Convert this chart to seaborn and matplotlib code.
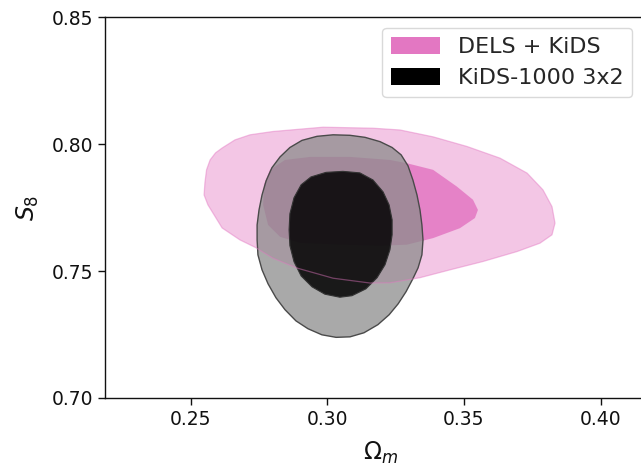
import matplotlib
matplotlib.use("Agg")
import matplotlib.pyplot as plt
import seaborn as sns
from matplotlib.patches import Patch

# ---- data: contour boundaries (Omega_m, S8) ----
dels_95_om = [0.2549, 0.2552, 0.2558, 0.2571, 0.2591, 0.2615, 0.2662, 0.2717, 0.2801, 0.2984,
              0.3167, 0.3266, 0.3387, 0.3511, 0.3632, 0.3731, 0.3789, 0.3822, 0.3833, 0.3822,
              0.3778, 0.3694, 0.3570, 0.3449, 0.3339, 0.3229, 0.3156, 0.3021, 0.2889, 0.2801,
              0.2739, 0.2680, 0.2615, 0.2563]
dels_95_s8 = [0.7800, 0.7848, 0.7899, 0.7938, 0.7966, 0.7985, 0.8017, 0.8037, 0.8050, 0.8067,
              0.8063, 0.8056, 0.8029, 0.7991, 0.7945, 0.7886, 0.7820, 0.7754, 0.7689, 0.7643,
              0.7610, 0.7577, 0.7538, 0.7505, 0.7474, 0.7454, 0.7453, 0.7472, 0.7512, 0.7551,
              0.7592, 0.7623, 0.7670, 0.7761]

dels_68_om = [0.2768, 0.2790, 0.2845, 0.2937, 0.3083, 0.3229, 0.3291, 0.3387, 0.3474, 0.3533,
              0.3551, 0.3540, 0.3485, 0.3387, 0.3291, 0.3193, 0.3046, 0.2900, 0.2827, 0.2783,
              0.2765]
dels_68_s8 = [0.7840, 0.7899, 0.7938, 0.7950, 0.7950, 0.7938, 0.7925, 0.7899, 0.7833, 0.7781,
              0.7741, 0.7709, 0.7669, 0.7630, 0.7604, 0.7600, 0.7604, 0.7611, 0.7635, 0.7682,
              0.7761]

kids_95_om = [0.3021, 0.3083, 0.3138, 0.3193, 0.3237, 0.3270, 0.3295, 0.3313, 0.3328, 0.3339,
              0.3346, 0.3350, 0.3346, 0.3332, 0.3313, 0.3288, 0.3259, 0.3226, 0.3185, 0.3134,
              0.3083, 0.3032, 0.2980, 0.2929, 0.2885, 0.2845, 0.2812, 0.2783, 0.2761, 0.2746,
              0.2743, 0.2743, 0.2750, 0.2761, 0.2776, 0.2797, 0.2827, 0.2863, 0.2907, 0.2962]
kids_95_s8 = [0.8037, 0.8035, 0.8027, 0.8010, 0.7987, 0.7958, 0.7915, 0.7859, 0.7800, 0.7741,
              0.7682, 0.7623, 0.7564, 0.7513, 0.7470, 0.7419, 0.7371, 0.7328, 0.7289, 0.7257,
              0.7241, 0.7239, 0.7249, 0.7273, 0.7304, 0.7348, 0.7395, 0.7450, 0.7505, 0.7564,
              0.7623, 0.7682, 0.7741, 0.7800, 0.7856, 0.7907, 0.7950, 0.7987, 0.8015, 0.8031]

kids_68_om = [0.3057, 0.3119, 0.3167, 0.3204, 0.3226, 0.3237, 0.3237, 0.3229, 0.3211, 0.3182,
              0.3141, 0.3090, 0.3046, 0.2991, 0.2944, 0.2904, 0.2878, 0.2863, 0.2860, 0.2863,
              0.2878, 0.2904, 0.2940, 0.2995]
kids_68_s8 = [0.7893, 0.7887, 0.7859, 0.7812, 0.7761, 0.7702, 0.7643, 0.7584, 0.7525, 0.7474,
              0.7430, 0.7403, 0.7397, 0.7409, 0.7438, 0.7481, 0.7537, 0.7600, 0.7663, 0.7726,
              0.7789, 0.7840, 0.7871, 0.7889]

labels = ["DELS + KiDS", "KiDS-1000 3x2"]
xticks = [0.25, 0.30, 0.35, 0.40]
yticks = [0.70, 0.75, 0.80, 0.85]

sns.set_theme(style="ticks")
plt.rcParams["font.family"] = ["DejaVu Sans"]
plt.rcParams["mathtext.fontset"] = "dejavusans"

pink = "#e377c2"
fig = plt.figure(figsize=(6.41, 4.71), dpi=100)
ax = fig.add_axes([105 / 641, 73 / 471, 550.3 / 641, 380.7 / 471])

ax.fill(dels_95_om, dels_95_s8, facecolor=pink, alpha=0.42, edgecolor="none", zorder=1)
ax.fill(dels_68_om, dels_68_s8, facecolor=pink, alpha=0.85, edgecolor="none", zorder=2)
ax.fill(kids_95_om, kids_95_s8, facecolor="#8c8c8c", alpha=0.75, edgecolor="none", zorder=3)
ax.fill(kids_95_om, kids_95_s8, facecolor="none", edgecolor="#4a4a4a", lw=1.0, zorder=5)
ax.fill(kids_68_om, kids_68_s8, facecolor="black", alpha=0.85, edgecolor="none", zorder=4)
ax.fill(kids_68_om, kids_68_s8, facecolor="none", edgecolor="#333333", lw=0.8, zorder=5)
ax.fill(dels_95_om, dels_95_s8, facecolor="none", edgecolor=pink, alpha=0.45, lw=0.9, zorder=6)

ax.set_xlim(0.21864, 0.42)
ax.set_ylim(0.70, 0.85)
ax.set_xticks(xticks)
ax.set_xticklabels([f"{v:.2f}" for v in xticks])
ax.set_yticks(yticks)
ax.set_yticklabels([f"{v:.2f}" for v in yticks])
ax.tick_params(labelsize=13.5, length=5, width=1, color="#111111", labelcolor="#111111")
for s in ax.spines.values():
    s.set_color("#111111")
    s.set_linewidth(1.0)

ax.set_xlabel(r"$\Omega_m$", fontsize=17, color="#111111", labelpad=8)
ax.set_ylabel(r"$S_8$", fontsize=17, color="#111111", labelpad=8)

handles = [Patch(facecolor=pink, edgecolor="none", label=labels[0]),
           Patch(facecolor="black", edgecolor="none", label=labels[1])]
leg = ax.legend(handles=handles, loc="upper right", bbox_to_anchor=(0.958, 0.972),
                borderaxespad=0, fontsize=16, frameon=True, handlelength=2.2,
                handleheight=0.8, fancybox=True)
leg.get_frame().set_edgecolor("#d0d0d0")

fig.savefig("out.png", dpi=100)
